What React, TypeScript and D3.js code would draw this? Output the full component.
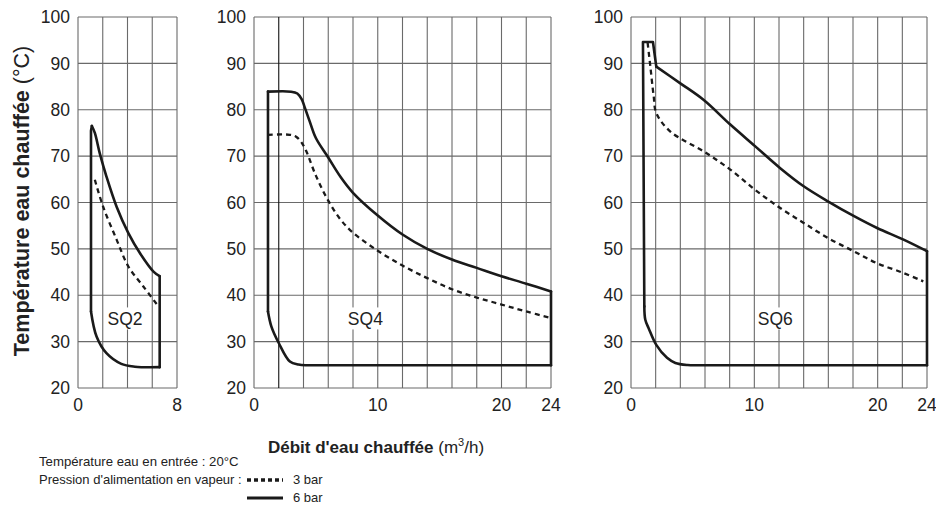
import React from "react";
import * as d3 from "d3";

type Pt = [number, number];

// ---- data ----
const yTicks = [20, 30, 40, 50, 60, 70, 80, 90, 100];
const sq2XTicks = [0, 8];
const sq4XTicks = [0, 10, 20, 24];
const sq6XTicks = [0, 10, 20, 24];

// SQ2
const sq2Upper6: Pt[] = [[1.12, 76.5], [1.36, 75], [1.76, 70.6], [2.3, 65.6], [3.12, 59.1], [4.07, 53.4], [5.0, 49.1], [6.1, 45.1], [6.6, 44.1]];
const sq2Lower: Pt[] = [[1.05, 36.5], [1.5, 31.1], [2.3, 27.5], [3.5, 25.2], [4.6, 24.6], [6.6, 24.5]];
const sq2Dashed3: Pt[] = [[1.36, 64.9], [2.03, 59.1], [3.12, 52], [4.07, 46.2], [5.28, 41.9], [6.5, 37.6]];
const sq2Cap: Pt[] = [[1.05, 36.5], [1.05, 75.5], [1.12, 76.5]];

// SQ4
const sq4Upper6: Pt[] = [[1.13, 83.9], [3.0, 83.9], [3.5, 83.5], [3.85, 82.3], [4.1, 80.5], [4.5, 77.5], [5, 73.9], [6, 69.7], [7, 65.5], [8, 62.1], [10, 57.2], [12, 53.1], [14, 50.0], [16, 47.7], [18, 45.9], [20, 44.1], [22, 42.5], [24, 40.8]];
const sq4Lower: Pt[] = [[1.13, 36.5], [1.4, 33.3], [2.0, 29.7], [2.9, 25.7], [3.6, 25.05], [4.3, 24.9], [5, 24.9], [24, 24.9]];
const sq4Dashed3: Pt[] = [[1.13, 74.6], [2.9, 74.6], [3.4, 74.2], [3.8, 73.1], [4.2, 71.2], [5, 65.8], [6, 60.4], [7, 56.3], [8, 53.5], [10, 49.6], [12, 46.4], [14, 43.7], [16, 41.3], [18, 39.5], [20, 38.0], [22, 36.5], [24, 35.1]];
const sq4Cap: Pt[] = [[1.13, 36.5], [1.13, 83.9]];

// SQ6
const sq6Upper6: Pt[] = [[2.05, 89.3], [4.0, 85.7], [5.9, 82.1], [8.05, 76.8], [10.08, 72.1], [12.1, 67.4], [14, 63.5], [16, 60.2], [18.05, 57.1], [19.95, 54.5], [22.1, 52.0], [24, 49.5]];
const sq6Lower: Pt[] = [[1.08, 37.6], [1.16, 34.7], [1.43, 32.9], [2.05, 29.3], [2.92, 26.5], [3.6, 25.4], [4.6, 24.95], [5.35, 24.9], [6, 24.9], [24, 24.9]];
const sq6Dashed3: Pt[] = [[1.35, 94.4], [1.57, 89.3], [1.84, 82.9], [2.05, 79.3], [3.19, 75.3], [5.9, 71.0], [8.05, 67.1], [10.08, 62.7], [12.1, 58.8], [14, 55.6], [16, 52.3], [18.05, 49.5], [19.95, 46.9], [22.1, 44.8], [23.7, 43.0]];
const sq6Cap: Pt[] = [[1.08, 37.6], [0.97, 94.6], [1.78, 94.6], [2.05, 89.3]];

const panelNames = ["SQ2", "SQ4", "SQ6"];
const panelMax = [8, 24, 24];
const labelPos: Pt[] = [[3.8, 35], [9.0, 35], [11.7, 35]];

const FONT = "'Liberation Sans', Arial, Helvetica, sans-serif";

export default function App() {
  const y = d3.scaleLinear().domain([20, 100]).range([388, 17]);
  const ranges: [number, number][] = [[78, 177], [254, 551], [631, 927]];
  const xTicksAll = [sq2XTicks, sq4XTicks, sq6XTicks];
  const uppers = [sq2Upper6, sq4Upper6, sq6Upper6];
  const lowers = [sq2Lower, sq4Lower, sq6Lower];
  const dashes = [sq2Dashed3, sq4Dashed3, sq6Dashed3];
  const caps = [sq2Cap, sq4Cap, sq6Cap];

  return (
    <svg width={936} height={506} style={{ position: "absolute", left: 0, top: 0, background: "#fff" }} fontFamily={FONT}>
      <rect width={936} height={506} fill="#fff" />
      {panelNames.map((name, i) => {
        const x = d3.scaleLinear().domain([0, panelMax[i]]).range(ranges[i]);
        const smooth = d3.line<Pt>().x(d => x(d[0])).y(d => y(d[1])).curve(d3.curveCatmullRom.alpha(0.5));
        const straight = d3.line<Pt>().x(d => x(d[0])).y(d => y(d[1]));
        const up = uppers[i];
        const lo = lowers[i];
        const vGrid = d3.range(0, panelMax[i] + 0.001, 2);
        const [lx, ly] = labelPos[i];
        return (
          <g key={name}>
            {yTicks.map(t => (
              <line key={"h" + t} x1={x(0)} x2={x(panelMax[i])} y1={y(t)} y2={y(t)} stroke="#6a6a6a" strokeWidth={1.1} />
            ))}
            {vGrid.map(t => (
              <line key={"v" + t} x1={x(t)} x2={x(t)} y1={y(20)} y2={y(100)} stroke={i === 1 && t === 2 ? "#111" : "#6a6a6a"} strokeWidth={1.1} />
            ))}
            {yTicks.map(t => (
              <text key={"yl" + t} x={x(0) - 8} y={y(t)} dy="0.35em" textAnchor="end" fontSize={17.5} fill="#222">{t}</text>
            ))}
            {xTicksAll[i].map(t => (
              <text key={"xl" + t} x={x(t)} y={411} textAnchor="middle" fontSize={17.5} fill="#222">{t}</text>
            ))}
            <g fill="none" stroke="#1a1a1a" strokeWidth={2.6} strokeLinejoin="round" strokeLinecap="round">
              <path d={straight(caps[i]) || ""} />
              <path d={smooth(up) || ""} />
              <path d={straight([up[up.length - 1], lo[lo.length - 1]]) || ""} />
              <path d={smooth(lo) || ""} />
            </g>
            <path d={smooth(dashes[i]) || ""} fill="none" stroke="#1a1a1a" strokeWidth={2.3} strokeDasharray="5,4" />
            <rect x={x(lx) - 19} y={y(ly) - 11} width={38} height={22} fill="#fff" />
            <text x={x(lx)} y={y(ly)} dy="0.35em" textAnchor="middle" fontSize={17.5} fill="#222">{name}</text>
          </g>
        );
      })}
      <text transform="translate(28.5,201) rotate(-90)" textAnchor="middle" fontSize={21.5} fill="#222">
        <tspan fontWeight="bold">Température eau chauffée</tspan>
        <tspan> (°C)</tspan>
      </text>
      <text x={376} y={453} textAnchor="middle" fontSize={17} fill="#222">
        <tspan fontWeight="bold">Débit d'eau chauffée</tspan>
        <tspan> (m</tspan>
        <tspan fontSize={11} dy={-7}>3</tspan>
        <tspan dy={7}>/h)</tspan>
      </text>
      <text x={39} y={466} fontSize={13.2} fill="#222">Température eau en entrée : 20°C</text>
      <text x={39} y={484} fontSize={13} fill="#222">Pression d'alimentation en vapeur :</text>
      <line x1={247} x2={283} y1={480} y2={480} stroke="#1a1a1a" strokeWidth={3.5} strokeDasharray="4,3" />
      <text x={293} y={484} fontSize={13} fill="#222">3 bar</text>
      <line x1={247} x2={283} y1={498} y2={498} stroke="#1a1a1a" strokeWidth={3} />
      <text x={293} y={502} fontSize={13} fill="#222">6 bar</text>
    </svg>
  );
}
